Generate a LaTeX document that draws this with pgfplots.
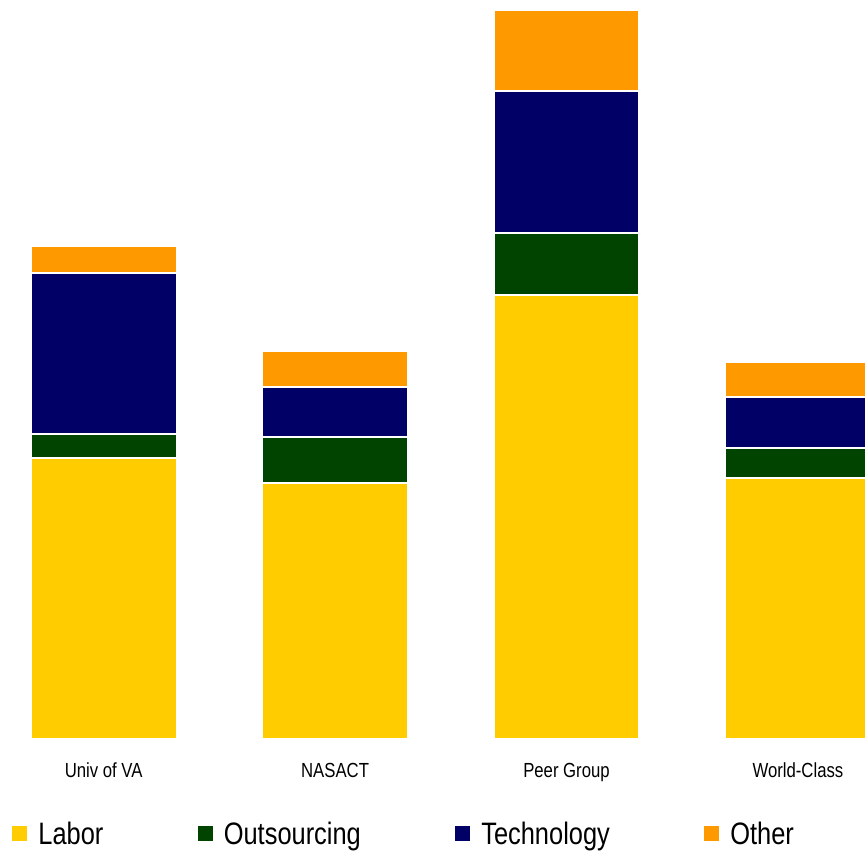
\documentclass[border=0pt]{standalone}
\usepackage{pgfplots}
\pgfplotsset{compat=1.18}
\usepackage{fontspec}
\setmainfont{Liberation Sans}[FakeStretch=0.82]
\definecolor{labor}{HTML}{FFCC00}
\definecolor{outs}{HTML}{004400}
\definecolor{tech}{HTML}{000066}
\definecolor{other}{HTML}{FF9900}
\begin{document}
\begin{tikzpicture}
\begin{axis}[
  at={(0pt,0pt)}, anchor=north west,
  scale only axis, width=432.5pt, height=369.5pt,
  xmin=-0.4481, xmax=3.290, ymin=0, ymax=739,
  ybar stacked, bar width=0.627,
  axis line style={draw=none}, tick style={draw=none},
  major tick length=0pt,
  ytick=\empty,
  xtick={0,1,2,3},
  xticklabels={Univ of VA, NASACT, Peer Group, World-Class},
  xticklabel style={anchor=base, yshift=-19pt, font=\fontsize{10.2}{12}\selectfont, inner sep=0pt},
  legend columns=4,
  legend style={at={(rel axis cs:0.01387,-0.1295)}, anchor=west, draw=none, fill=none,
    inner sep=0pt, font=\fontsize{15.5}{18}\selectfont,
    nodes={inner sep=0pt},
    /tikz/every odd column/.append style={column sep=5.5pt},
    /tikz/every even column/.append style={column sep=47.2pt}},
  legend image code/.code={\fill[#1,draw=none] (0pt,-3pt) rectangle (7.5pt,4.5pt);},
  every axis plot/.append style={draw=white, line width=0.55pt},
]
\addplot[fill=labor] coordinates {(0,281) (1,256) (2,444) (3,261)};
\addplot[fill=outs] coordinates {(0,24) (1,46) (2,62) (3,30)};
\addplot[fill=tech] coordinates {(0,161) (1,50) (2,142) (3,51)};
\addplot[fill=other] coordinates {(0,27) (1,36) (2,81) (3,35)};
\legend{Labor, Outsourcing, Technology, Other}
\end{axis}
\pgfresetboundingbox
\path (0pt,0pt) rectangle (432.5pt,-425.5pt);
\end{tikzpicture}
\end{document}
